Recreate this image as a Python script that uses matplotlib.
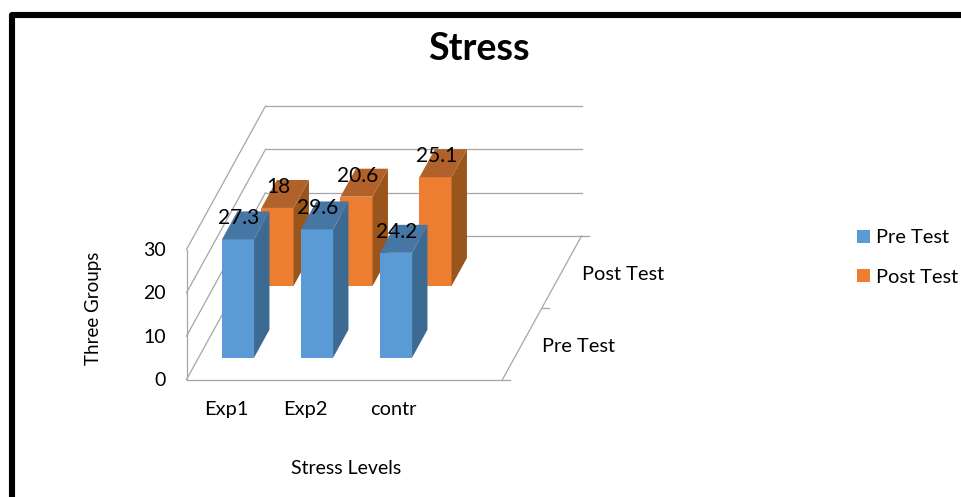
import matplotlib
matplotlib.use('Agg')
import matplotlib.pyplot as plt
from matplotlib.lines import Line2D
from matplotlib.patches import Patch, Polygon

plt.rcParams['font.family'] = ['Lato', 'DejaVu Sans']

# data
groups = ['Exp1', 'Exp2', 'contr']
series = ['Pre Test', 'Post Test']
pre_test = [27.3, 29.6, 24.2]
post_test = [18, 20.6, 25.1]
z_ticks = [0, 10, 20, 30]

# colours: front, side, top
blue = ['#5b9bd5', '#3c6a92', '#4676a3']
orange = ['#ed7d31', '#99551c', '#b1622a']
grid_c = '#a6a6a6'

W, H = 961, 497
X0, Z0 = 186.5, 379.5    # pixel of the chart origin
PX_X, PX_Z = 79.0, 4.333  # pixels per category / per z unit

# oblique depth: one depth unit moves the point right and up
DX = 39.5 / PX_X
DZ = 71.75 / PX_Z


def pt(x, d, z):
    return (x + d * DX, z + d * DZ)


fig = plt.figure(figsize=(W / 100, H / 100), dpi=100)
ax = fig.add_axes([0, 0, 1, 1])
ax.set_xlim(-X0 / PX_X, (W - X0) / PX_X)
ax.set_ylim((Z0 - H) / PX_Z, Z0 / PX_Z)
ax.axis('off')

# black frame of the screenshot
fig.add_artist(Line2D([12 / W, 12 / W, 1], [0, 1 - 15 / H, 1 - 15 / H],
                      transform=fig.transFigure, color='black', lw=4.4,
                      solid_joinstyle='round'))


def seg(p, q):
    ax.plot([p[0], q[0]], [p[1], q[1]], color=grid_c, lw=0.9, zorder=1)


# walls and floor
for z in z_ticks:
    seg(pt(0, 0, z), pt(0, 2, z))
    seg(pt(0, 2, z), pt(4, 2, z))
seg(pt(0, 0, 0), pt(0, 0, 30))
seg(pt(0, 0, 0), pt(4, 0, 0))
seg(pt(4, 0, 0), pt(4, 2, 0))
for d in [0, 1, 2]:
    seg(pt(4, d, 0), pt(4.09, d, 0))


def bar(x, d, h, cols, zo):
    x0, x1 = x + 0.297, x + 0.703
    d0, d1 = d + 0.304, d + 0.694
    front = [pt(x0, d0, 0), pt(x1, d0, 0), pt(x1, d0, h), pt(x0, d0, h)]
    side = [pt(x1, d0, 0), pt(x1, d1, 0), pt(x1, d1, h), pt(x1, d0, h)]
    top = [pt(x0, d0, h), pt(x1, d0, h), pt(x1, d1, h), pt(x0, d1, h)]
    for poly, c in zip([front, side, top], cols):
        ax.add_patch(Polygon(poly, closed=True, facecolor=c, edgecolor='none', zorder=zo))
    # label sits around the top face
    cx, cz = pt((x0 + x1) / 2, (d0 + d1) / 2, h)
    ax.annotate(str(h), (cx, cz), xytext=(-5.0, 5.0), textcoords='offset points',
                ha='center', va='center', fontsize=15, color='black', zorder=10)


for i, v in enumerate(post_test):
    bar(i, 1, v, orange, 3)
for i, v in enumerate(pre_test):
    bar(i, 0, v, blue, 4)

# tick labels
for z in z_ticks:
    x, y = pt(0, 0, z)
    ax.annotate(str(z), (x, y), xytext=(-15, -0.8), textcoords='offset points',
                ha='right', va='center', fontsize=14)

group_x = [0.5, 1.5, 2.62]
for x, g in zip(group_x, groups):
    ax.annotate(g, pt(x, 0, 0), xytext=(0, -21.5), textcoords='offset points',
                ha='center', va='center', fontsize=14.4)

for d, s in zip([0.5, 1.5], series):
    ax.annotate(s, pt(4, d, 0), xytext=(14.5, -2.2), textcoords='offset points',
                ha='left', va='center', fontsize=14.4)

# titles
fig.text(479 / W, 1 - 49.5 / H, 'Stress', ha='center', va='center', fontsize=27, fontweight='bold')
fig.text(93 / W, 1 - 308 / H, 'Three Groups', rotation=90, ha='center', va='center', fontsize=13.5)
fig.text(346 / W, 1 - 469 / H, 'Stress Levels', ha='center', va='center', fontsize=14)

# legend
handles = [Patch(facecolor=blue[0]), Patch(facecolor=orange[0])]
fig.legend(handles, series, loc='center left', bbox_to_anchor=(857 / W, 1 - 257.5 / H),
           frameon=False, fontsize=14.4, handlelength=0.65, handleheight=0.65,
           handletextpad=0.3, labelspacing=1.12, borderpad=0, borderaxespad=0)

fig.savefig('out.png', dpi=100)
